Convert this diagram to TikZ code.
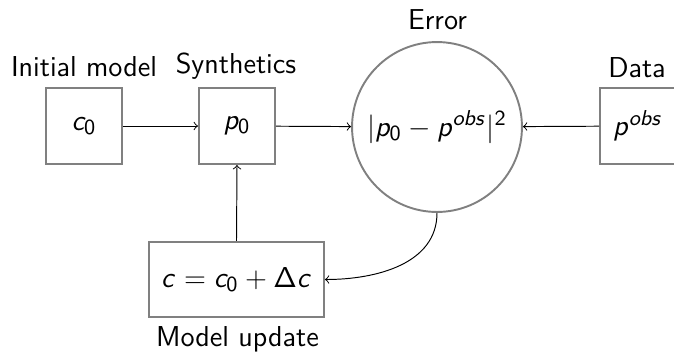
\documentclass[tikz,border=0pt]{standalone}
\renewcommand{\familydefault}{\sfdefault}
% sans-serif maths: slanted sans letters, upright sans digits and Greek
\DeclareSymbolFont{operators}{OT1}{cmss}{m}{n}
\DeclareSymbolFont{letters}{OT1}{cmss}{m}{sl}
\usetikzlibrary{arrows}
\newcommand{\mathsize}{\fontsize{12.5}{15}\selectfont}
\tikzset{
  block/.style={draw=gray, line width=0.8pt, minimum width=31.7pt, minimum height=31.7pt, inner sep=0pt, font=\mathsize},
  errball/.style={draw=gray, line width=0.8pt, circle, minimum size=70.8pt, inner sep=0pt, font=\mathsize},
  caption/.style={anchor=base, inner sep=0pt, font=\large},
  flow/.style={->, line width=0.4pt, black}
}
\begin{document}
\begin{tikzpicture}[x=0.41667pt, y=-0.41667pt]
  \useasboundingbox (0,0) rectangle (674,353);
  % processing blocks
  \node[block] (init) at (84,126) {$c_0$};
  \node[block] (synth) at (237,126) {$p_0$};
  \node[errball] (err) at (437,127) {$|p_0 - p^{obs}|^2$};
  \node[block] (data) at (638,126) {$p^{obs}$};
  \node[block, minimum width=72.9pt, minimum height=31.3pt] (upd) at (236.5,279.5) {$c = c_0 + \Delta c$};
  % captions
  \node[caption] (linit) at (84,76) {Initial model};
  \node[caption] (lsynth) at (236,73) {Synthetics};
  \node[caption] (lerr) at (437.5,29) {Error};
  \node[caption] (ldata) at (637,77) {Data};
  \node[caption] (lupd) at (237.5,346) {Model update};
  % connectors
  \draw[flow] (init) -- (synth);
  \draw[flow] (synth) -- (err);
  \draw[flow] (data) -- (err);
  \draw[flow] (upd.north) -- (synth.south);
  \draw[flow] (err.south) to[out=-90, in=0] (upd.east);
\end{tikzpicture}
\end{document}
